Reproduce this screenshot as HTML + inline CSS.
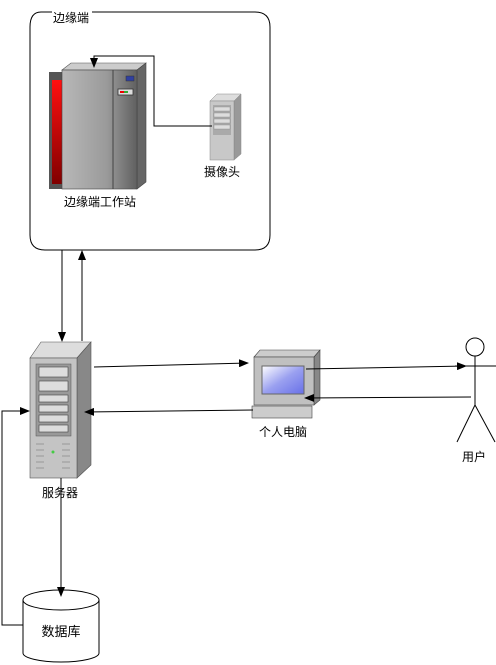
<!DOCTYPE html>
<html><head><meta charset="utf-8">
<style>
html,body{margin:0;padding:0;background:#fff;}
svg{display:block;}
text{font-family:"Liberation Sans","Noto Sans CJK SC",sans-serif;font-size:12px;fill:#000;}
</style></head><body>
<svg width="496" height="665" viewBox="0 0 496 665" xmlns="http://www.w3.org/2000/svg">
<defs>
<marker id="ar" markerWidth="10" markerHeight="8" refX="9" refY="4" orient="auto" markerUnits="userSpaceOnUse">
<path d="M0,0 L10,4 L0,8 Z" fill="#000"/></marker>
<linearGradient id="wsg" x1="0" x2="1"><stop offset="0" stop-color="#b8b8b8"/><stop offset="0.6" stop-color="#9a9a9a"/><stop offset="1" stop-color="#606060"/></linearGradient>
<linearGradient id="redg" x1="0" x2="0" y1="0" y2="1"><stop offset="0" stop-color="#ff1010"/><stop offset="1" stop-color="#800000"/></linearGradient>
<linearGradient id="scr" x1="0" x2="1" y1="0" y2="1"><stop offset="0" stop-color="#ffffff"/><stop offset="0.5" stop-color="#9aa0f0"/><stop offset="1" stop-color="#6870e8"/></linearGradient>
</defs>

<path d="M52,12 L41,12 Q30,12 30,27 L30,235 Q30,250 45,250 L255,250 Q270,250 270,235 L270,27 Q270,12 255,12 L92,12" fill="none" stroke="#000" stroke-width="1"/>
<text x="53" y="22">边缘端</text>

<rect x="49" y="72" width="14" height="117" fill="#555"/>
<rect x="52" y="80" width="10" height="104" fill="url(#redg)"/>
<path d="M62,70 L71,63 L146,63 L137,70 Z" fill="#ccc" stroke="#555" stroke-width="0.6"/>
<path d="M137,70 L146,63 L146,182 L137,189 Z" fill="#666" stroke="#444" stroke-width="0.6"/>
<rect x="62" y="70" width="75" height="119" fill="url(#wsg)" stroke="#444" stroke-width="0.6"/>
<line x1="113" y1="70" x2="113" y2="189" stroke="#444"/>
<line x1="134" y1="70" x2="134" y2="189" stroke="#666"/>
<rect x="126" y="76" width="8" height="5" fill="#3040a0" stroke="#333" stroke-width="0.5"/>
<rect x="118" y="89" width="15" height="6" fill="#ddd" stroke="#333" stroke-width="0.8"/>
<rect x="120" y="91" width="4" height="2" fill="#e00"/><rect x="124" y="91" width="4" height="2" fill="#3a3"/>
<text x="100" y="206" text-anchor="middle">边缘端工作站</text>

<path d="M210,101 L217,94 L241,94 L234,101 Z" fill="#ddd" stroke="#888" stroke-width="0.5"/>
<path d="M234,101 L241,94 L241,154 L234,160 Z" fill="#999" stroke="#888" stroke-width="0.5"/>
<rect x="210" y="101" width="24" height="59" fill="#c8c8c8" stroke="#888" stroke-width="0.5"/>
<rect x="213" y="105" width="18" height="30" fill="#aaa"/>
<g fill="#ddd" stroke="#888" stroke-width="0.4"><rect x="214" y="107" width="16" height="4"/><rect x="214" y="113" width="16" height="4"/><rect x="214" y="119" width="16" height="4"/><rect x="214" y="125" width="16" height="4"/></g>
<text x="222" y="176" text-anchor="middle">摄像头</text>
<polyline points="212,126 154,126 154,56 94,56 94,67" fill="none" stroke="#000" marker-end="url(#ar)"/>

<line x1="62" y1="250" x2="62" y2="341" stroke="#000" marker-end="url(#ar)"/>
<line x1="82" y1="341" x2="82" y2="251" stroke="#000" marker-end="url(#ar)"/>

<path d="M30,358 L41,342 L91,342 L77,358 Z" fill="#ddd" stroke="#555" stroke-width="0.6"/>
<path d="M77,358 L91,342 L91,465 L77,478 Z" fill="#888" stroke="#555" stroke-width="0.6"/>
<rect x="30" y="358" width="47" height="120" fill="#c4c4c4" stroke="#555" stroke-width="0.6"/>
<rect x="36" y="364" width="35" height="72" fill="#999" stroke="#555" stroke-width="0.5"/>
<g fill="#ddd" stroke="#444" stroke-width="0.6">
<rect x="39" y="367" width="29" height="10"/><rect x="39" y="381" width="29" height="10"/><rect x="39" y="395" width="29" height="7"/>
<rect x="39" y="405" width="29" height="7"/><rect x="39" y="415" width="29" height="7"/><rect x="39" y="425" width="29" height="7"/></g>
<g stroke="#999" stroke-width="1"><line x1="36" y1="444" x2="44" y2="444"/><line x1="36" y1="450" x2="44" y2="450"/><line x1="36" y1="456" x2="44" y2="456"/><line x1="36" y1="462" x2="44" y2="462"/><line x1="36" y1="468" x2="44" y2="468"/>
<line x1="62" y1="444" x2="70" y2="444"/><line x1="62" y1="450" x2="70" y2="450"/><line x1="62" y1="456" x2="70" y2="456"/><line x1="62" y1="462" x2="70" y2="462"/><line x1="62" y1="468" x2="70" y2="468"/></g>
<circle cx="53" cy="452" r="1.5" fill="#4c4"/>
<text x="60" y="497" text-anchor="middle">服务器</text>

<path d="M254,357 L260,350 L320,350 L314,357 Z" fill="#ccc" stroke="#444" stroke-width="0.6"/>
<path d="M314,357 L320,350 L320,400 L314,405 Z" fill="#888" stroke="#444" stroke-width="0.6"/>
<rect x="254" y="357" width="60" height="48" fill="#c0c0c0" stroke="#444" stroke-width="0.6"/>
<rect x="262" y="366" width="42" height="28" fill="url(#scr)" stroke="#666"/>
<rect x="252" y="406" width="60" height="12" fill="#ccc" stroke="#444" stroke-width="0.6"/>
<text x="283" y="436" text-anchor="middle">个人电脑</text>

<line x1="94" y1="367" x2="248" y2="363" stroke="#000" marker-end="url(#ar)"/>
<line x1="253" y1="410" x2="85" y2="412" stroke="#000" marker-end="url(#ar)"/>
<line x1="306" y1="369" x2="466" y2="366" stroke="#000" marker-end="url(#ar)"/>
<line x1="471" y1="397" x2="305" y2="398" stroke="#000" marker-end="url(#ar)"/>

<circle cx="475" cy="347" r="9" fill="#fff" stroke="#000"/>
<line x1="475" y1="356" x2="475" y2="405" stroke="#000"/>
<line x1="455" y1="366" x2="496" y2="366" stroke="#000"/>
<line x1="475" y1="405" x2="457" y2="442" stroke="#000"/>
<line x1="475" y1="405" x2="495" y2="442" stroke="#000"/>
<text x="474" y="461" text-anchor="middle">用户</text>

<path d="M23,600 L23,653 A38,9 0 0 0 99,653 L99,600" fill="#fff" stroke="#000"/>
<ellipse cx="61" cy="600" rx="38" ry="10" fill="#fff" stroke="#000"/>
<text x="61" y="636" text-anchor="middle" style="font-size:13px">数据库</text>
<line x1="61" y1="478" x2="61" y2="596" stroke="#000" marker-end="url(#ar)"/>
<polyline points="23,625 2,625 2,411 29,411" fill="none" stroke="#000" marker-end="url(#ar)"/>
</svg>
</body></html>
